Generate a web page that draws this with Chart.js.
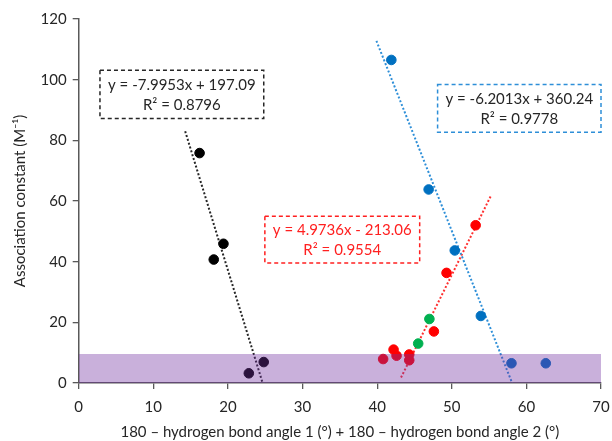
<!DOCTYPE html>
<html>
<head>
<meta charset="utf-8">
<script src="https://cdn.jsdelivr.net/npm/chart.js@4"></script>
<style>
  html, body { margin: 0; padding: 0; background: #fff; overflow: hidden; }
  canvas { display: block; }
</style>
</head>
<body>
<canvas id="c" width="612" height="441"></canvas>
<script>
// data
var blackX = [16.2, 18.1, 19.4, 22.8, 24.8];
var blackY = [75.8, 40.7, 45.9, 3.2, 6.9];
var blueX = [41.9, 46.9, 50.4, 53.9, 58.0, 62.6];
var blueY = [106.5, 63.8, 43.7, 22.1, 6.5, 6.5];
var redX = [53.2, 49.3, 47.6, 42.2, 42.6, 40.8, 44.3, 44.3];
var redY = [52.0, 36.3, 17.0, 11.0, 9.0, 7.9, 9.4, 7.5];
var greenX = [47.0, 45.5];
var greenY = [21.1, 13.0];

// trendline ends
var blackFitX = [14.27, 24.65];
var blackFitY = [83.0, 0];
var blueFitX = [39.9, 58.09];
var blueFitY = [112.8, 0];
var redFitX = [43.2, 55.2];
var redFitY = [1.8, 61.5];

// shaded band
var bandX = [0, 70];
var bandY = [9.6, 9.6];

var xTicks = [0, 10, 20, 30, 40, 50, 60, 70];
var yTicks = [0, 20, 40, 60, 80, 100, 120];

var labels = [
  { lines: ["y = -7.9953x + 197.09", "R² = 0.8796"], box: [2.85, 103.1, 24.8, 87.2], color: "#262626", border: "#262626" },
  { lines: ["y = -6.2013x + 360.24", "R² = 0.9778"], box: [48.1, 98.4, 70.0, 82.7], color: "#262626", border: "#2e8fd8" },
  { lines: ["y = 4.9736x - 213.06", "R² = 0.9554"], box: [24.95, 55.0, 45.7, 39.6], color: "#ff2020", border: "#ff2020" }
];

function pts(xs, ys) {
  return xs.map(function (x, i) { return { x: x, y: ys[i] }; });
}

var FONT = "Lato, 'Open Sans', sans-serif";

var boxPlugin = {
  id: "boxes",
  afterDraw: function (chart) {
    var ctx = chart.ctx;
    var xs = chart.scales.x, ys = chart.scales.y;
    ctx.save();
    for (let lb of labels) {
      var x0 = xs.getPixelForValue(lb.box[0]);
      var y0 = ys.getPixelForValue(lb.box[1]);
      var x1 = xs.getPixelForValue(lb.box[2]);
      var y1 = ys.getPixelForValue(lb.box[3]);
      ctx.fillStyle = "#fff";
      ctx.fillRect(x0, y0, x1 - x0, y1 - y0);
      ctx.setLineDash([4, 3]);
      ctx.lineWidth = 1.5;
      ctx.strokeStyle = lb.border;
      ctx.strokeRect(x0, y0, x1 - x0, y1 - y0);
      ctx.setLineDash([]);
      ctx.fillStyle = lb.color;
      ctx.font = "15px " + FONT;
      ctx.textAlign = "center";
      ctx.textBaseline = "middle";
      var cx = (x0 + x1) / 2;
      var h = y1 - y0;
      ctx.fillText(lb.lines[0], cx, y0 + h * 0.3);
      ctx.fillText(lb.lines[1], cx, y0 + h * 0.72);
    }
    ctx.restore();
  }
};

function fitLine(xs, ys, col) {
  return {
    type: "line",
    data: pts(xs, ys),
    borderColor: col,
    borderWidth: 2,
    borderDash: [2, 2],
    pointRadius: 0,
    fill: false,
    order: 5
  };
}

function dots(xs, ys, col) {
  return {
    type: "scatter",
    data: pts(xs, ys),
    backgroundColor: col,
    borderColor: col,
    pointRadius: 4.8,
    pointHoverRadius: 4.8,
    order: 3
  };
}

new Chart(document.getElementById("c"), {
  type: "scatter",
  data: {
    datasets: [
      {
        type: "line",
        data: pts(bandX, bandY),
        backgroundColor: "rgba(112, 48, 160, 0.38)",
        borderWidth: 0,
        pointRadius: 0,
        fill: "origin",
        order: 0
      },
      dots(blackX, blackY, "#000000"),
      dots(blueX, blueY, "#0070c0"),
      dots(redX, redY, "#ff0000"),
      dots(greenX, greenY, "#00b050"),
      fitLine(blackFitX, blackFitY, "#262626"),
      fitLine(blueFitX, blueFitY, "#2e8fd8"),
      fitLine(redFitX, redFitY, "#ff3030")
    ]
  },
  options: {
    responsive: false,
    animation: false,
    devicePixelRatio: 1,
    layout: { padding: { top: 19, right: 11, left: 7, bottom: 0 } },
    plugins: { legend: { display: false }, tooltip: { enabled: false } },
    scales: {
      x: {
        type: "linear",
        min: 0,
        max: 70,
        afterBuildTicks: function (s) { s.ticks = xTicks.map(function (v) { return { value: v }; }); },
        afterFit: function (s) { s.height = 58; s.paddingLeft = 0; s.paddingRight = 0; },
        grid: { drawOnChartArea: false, tickLength: 6, color: "#595959", lineWidth: 1.3 },
        border: { color: "#595959", width: 1.5 },
        ticks: { color: "#262626", font: { family: FONT, size: 15 }, padding: 9 },
        title: { display: true, text: "180 – hydrogen bond angle 1 (°) + 180 – hydrogen bond angle 2 (°)", color: "#262626", font: { family: FONT, size: 15 }, padding: { top: 5, bottom: 0 } }
      },
      y: {
        type: "linear",
        min: 0,
        max: 120,
        afterBuildTicks: function (s) { s.ticks = yTicks.map(function (v) { return { value: v }; }); },
        afterFit: function (s) { s.width = 71.7; s.paddingTop = 0; s.paddingBottom = 0; },
        grid: { drawOnChartArea: false, tickLength: 6, color: "#595959", lineWidth: 1.3 },
        border: { color: "#595959", width: 1.5 },
        ticks: { color: "#262626", font: { family: FONT, size: 15 }, padding: 6 },
        title: { display: true, text: "Association constant (M⁻¹)", color: "#262626", font: { family: FONT, size: 15 }, padding: { bottom: 6 } }
      }
    }
  },
  plugins: [boxPlugin]
});
</script>
</body>
</html>
